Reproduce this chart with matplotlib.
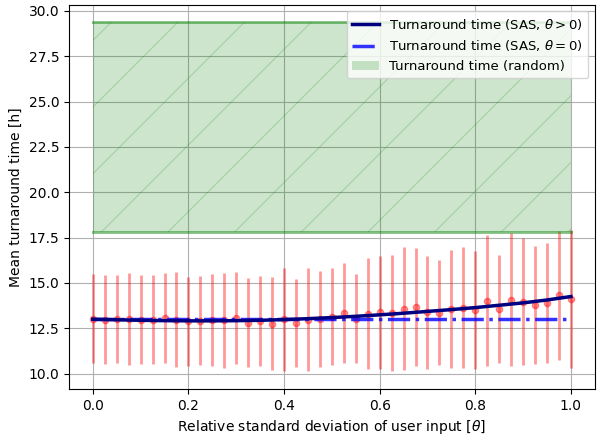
import numpy as np
import matplotlib

matplotlib.use("Agg")
import matplotlib.pyplot as plt
from matplotlib.ticker import FormatStrFormatter

# Desviación relativa de la entrada del usuario
theta = np.linspace(0, 1, 41)

# Tiempo medio de respuesta simulado y su desviación
mean_sim = [
    13.03, 12.98, 13.00, 13.01, 12.96, 12.98, 13.05, 12.97, 12.88, 12.92,
    12.95, 12.94, 13.05, 12.81, 12.90, 12.76, 12.99, 12.79, 12.97, 13.01,
    13.14, 13.33, 13.03, 13.31, 13.38, 13.32, 13.58, 13.67, 13.38, 13.35,
    13.58, 13.63, 13.52, 14.03, 13.57, 14.07, 13.97, 13.79, 13.89, 14.31,
    14.13,
]
std_sim = [
    2.47, 2.47, 2.44, 2.52, 2.45, 2.47, 2.49, 2.61, 2.47, 2.45,
    2.52, 2.62, 2.54, 2.45, 2.47, 2.57, 2.85, 2.43, 2.85, 2.67,
    2.69, 2.77, 2.47, 3.08, 3.11, 3.20, 3.39, 3.26, 3.10, 2.90,
    3.26, 3.33, 3.25, 3.62, 2.97, 3.66, 3.50, 3.27, 3.29, 3.56,
    3.81,
]

# Curva del modelo SAS
theta_model = np.linspace(0, 1, 21)
sas_model = [
    13.00, 12.97, 12.94, 12.92, 12.91, 12.91, 12.92, 12.94, 12.98, 13.03,
    13.09, 13.16, 13.24, 13.33, 13.43, 13.53, 13.64, 13.77, 13.90, 14.06,
    14.25,
]
sas_zero = 13.0  # SAS con theta = 0

# Asignación aleatoria: banda media +- desviación
random_low = 17.83
random_high = 29.37

# Se dibuja a 200 dpi con los tamaños a la mitad: el rayado queda más espaciado
S = 0.5
for key in [
    "font.size", "lines.linewidth", "lines.markersize", "lines.markeredgewidth",
    "axes.linewidth", "grid.linewidth", "patch.linewidth", "hatch.linewidth",
    "xtick.major.size", "xtick.major.width", "xtick.major.pad",
    "ytick.major.size", "ytick.major.width", "ytick.major.pad",
    "axes.labelpad",
]:
    plt.rcParams[key] = plt.rcParams[key] * S
plt.rcParams["hatch.linewidth"] = 0.8 * S

fig, ax = plt.subplots(figsize=(5.99 * S, 4.36 * S), dpi=100 / S)

ax.errorbar(
    theta, mean_sim, yerr=std_sim, fmt="o", color="red", alpha=0.4,
    markersize=4.5 * S, elinewidth=2 * S, capsize=0, zorder=2,
)
ax.plot(theta_model, sas_model, color="navy", linewidth=2.5 * S,
        label=r"Turnaround time (SAS, $\theta > 0$)", zorder=4)
ax.plot([0, 1], [sas_zero, sas_zero], color="blue", linestyle="-.",
        linewidth=2.5 * S, alpha=0.8,
        label=r"Turnaround time (SAS, $\theta = 0$)", zorder=3)

ax.fill_between([0, 1], random_low, random_high, color="green", alpha=0.2,
                linewidth=0, label="Turnaround time (random)")
ax.fill_between([0, 1], random_low, random_high, facecolor="none",
                edgecolor="green", alpha=0.2, linewidth=0, hatch="/")
ax.plot([0, 1], [random_low, random_low], color="green", alpha=0.5,
        linewidth=2 * S)
ax.plot([0, 1], [random_high, random_high], color="green", alpha=0.5,
        linewidth=2 * S)

ax.yaxis.set_major_formatter(FormatStrFormatter("%.1f"))
ax.grid(True, color="#b0b0b0")
ax.set_axisbelow(True)
ax.set_xlabel(r"Relative standard deviation of user input [$\theta$]")
ax.set_ylabel("Mean turnaround time [h]")
ax.legend(loc="upper right", fontsize=9.5 * S)

fig.subplots_adjust(left=0.115, right=0.993, top=0.989, bottom=0.108)
fig.savefig("out.png", dpi=100 / S)
